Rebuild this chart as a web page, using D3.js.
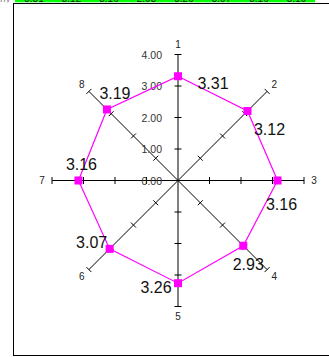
<!DOCTYPE html>
<html>
<head>
<meta charset="utf-8">
<script src="https://cdn.jsdelivr.net/npm/d3@7"></script>
<style>
  body { margin: 0; background: #fff; }
  svg { display: block; font-family: "Liberation Sans", Arial, sans-serif; }
</style>
</head>
<body>
<div id="chart"></div>
<script>
// data
const axisNames = ["1", "2", "3", "4", "5", "6", "7", "8"];
const values = [3.31, 3.12, 3.16, 2.93, 3.26, 3.07, 3.16, 3.19];
const tickValues = [0, 1, 2, 3, 4];

// label offsets from each marker (layout only)
const labelDx = [35, 22, 4, 5, -22, -18, 3, 8];
const labelDy = [7, 18, 24, 19, 4, -6, -16, -16];

const W = 329, H = 357;
const cx = 178, cy = 180.5;

const svg = d3.select("#chart")
  .append("svg")
  .attr("width", W)
  .attr("height", H);

// clipped spreadsheet row above the chart
svg.append("clipPath").attr("id", "rowclip")
  .append("rect").attr("x", 0).attr("y", 0).attr("width", W).attr("height", 2.5);
const row = svg.append("g").attr("clip-path", "url(#rowclip)");
row.append("rect").attr("x", 15).attr("y", 0).attr("width", 300).attr("height", 2.5).attr("fill", "#00ff00");
row.selectAll("text.cell")
  .data(values)
  .enter()
  .append("text")
  .attr("x", (d, i) => 34 + i * 37.5)
  .attr("y", 1.5)
  .attr("text-anchor", "middle")
  .attr("font-size", 10)
  .attr("fill", "#222")
  .text(d => d.toFixed(2));
row.append("text").attr("x", 0).attr("y", 1.5).attr("font-size", 10).attr("fill", "#888").text("ny");

// chart frame
svg.append("rect")
  .attr("x", 13.5).attr("y", 3.5)
  .attr("width", 330).attr("height", 352)
  .attr("fill", "none")
  .attr("stroke", "#000")
  .attr("stroke-width", 1);

const r = d3.scaleLinear().domain([0, 4]).range([0, 126]);
const angle = i => (-90 + 45 * i) * Math.PI / 180;
const px = (i, v) => cx + r(v) * Math.cos(angle(i));
const py = (i, v) => cy + r(v) * Math.sin(angle(i));

const g = svg.append("g");

// axes with ticks
axisNames.forEach((name, i) => {
  const a = angle(i);
  g.append("line")
    .attr("x1", cx).attr("y1", cy)
    .attr("x2", px(i, 4)).attr("y2", py(i, 4))
    .attr("stroke", "#000")
    .attr("stroke-width", 1);
  const nx = -Math.sin(a), ny = Math.cos(a);
  tickValues.slice(1).forEach(t => {
    g.append("line")
      .attr("x1", px(i, t) - nx * 3.5).attr("y1", py(i, t) - ny * 3.5)
      .attr("x2", px(i, t) + nx * 3.5).attr("y2", py(i, t) + ny * 3.5)
      .attr("stroke", "#000")
      .attr("stroke-width", 1);
  });
  g.append("text")
    .attr("x", cx + (r(4) + 10) * Math.cos(a))
    .attr("y", cy + (r(4) + 10) * Math.sin(a))
    .attr("text-anchor", "middle")
    .attr("dominant-baseline", "central")
    .attr("font-size", 10)
    .attr("fill", "#222")
    .text(name);
});

// value scale labels on axis 1
g.selectAll("text.tick")
  .data(tickValues)
  .enter()
  .append("text")
  .attr("class", "tick")
  .attr("x", cx - 16)
  .attr("y", d => cy - r(d))
  .attr("text-anchor", "end")
  .attr("dominant-baseline", "central")
  .attr("font-size", 10.5)
  .attr("fill", "#333")
  .text(d => d.toFixed(2));

// series polygon
const line = d3.line()
  .x((d, i) => px(i, d))
  .y((d, i) => py(i, d))
  .curve(d3.curveLinearClosed);

g.append("path")
  .datum(values)
  .attr("fill", "none")
  .attr("stroke", "#ff00ff")
  .attr("stroke-width", 1.2)
  .attr("d", line);

g.selectAll("rect.marker")
  .data(values)
  .enter()
  .append("rect")
  .attr("class", "marker")
  .attr("x", (d, i) => px(i, d) - 4)
  .attr("y", (d, i) => py(i, d) - 4)
  .attr("width", 8)
  .attr("height", 8)
  .attr("fill", "#ff00ff");

g.selectAll("text.val")
  .data(values)
  .enter()
  .append("text")
  .attr("class", "val")
  .attr("x", (d, i) => px(i, d) + labelDx[i])
  .attr("y", (d, i) => py(i, d) + labelDy[i])
  .attr("text-anchor", "middle")
  .attr("dominant-baseline", "central")
  .attr("font-size", 16)
  .attr("fill", "#111")
  .text(d => d.toFixed(2));
</script>
</body>
</html>
